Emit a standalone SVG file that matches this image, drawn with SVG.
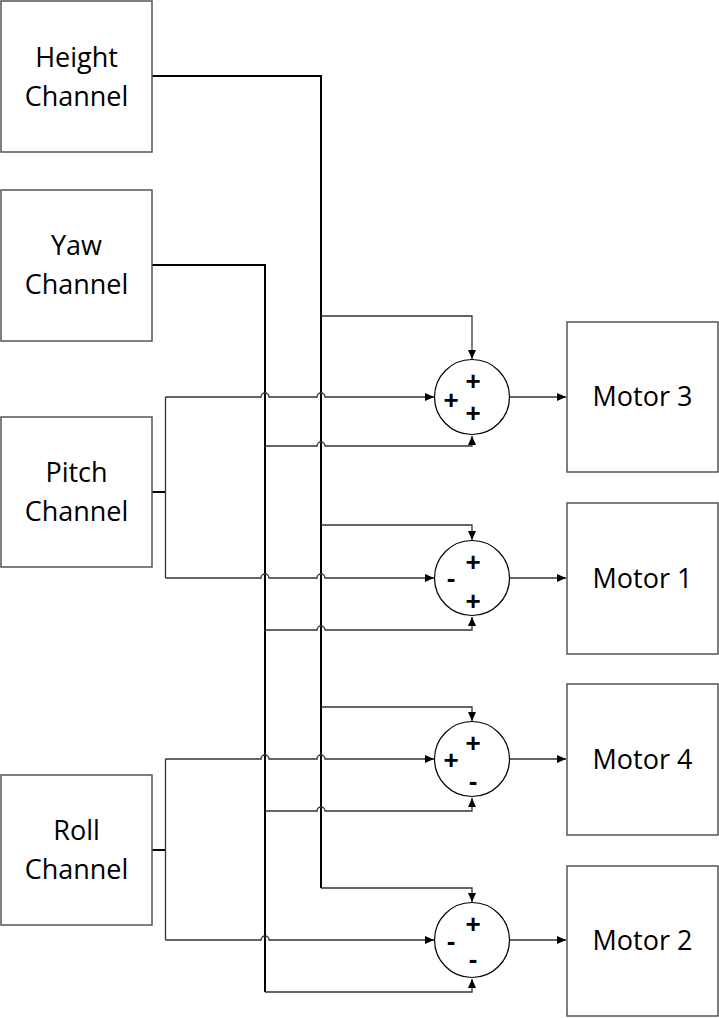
<svg xmlns="http://www.w3.org/2000/svg" width="719" height="1018" viewBox="0 0 719 1018">
<style>
.box{fill:#fff;stroke:#555;stroke-width:1.5}
.lbl{font-family:"Open Sans","Liberation Sans",sans-serif;font-size:27px;fill:#000;text-anchor:middle}
.sum{fill:#fff;stroke:#000;stroke-width:1.2}
.sg{font-family:"Liberation Sans",Arial,sans-serif;font-size:26px;font-weight:700;fill:#000;text-anchor:middle;dominant-baseline:central}
.trunk{fill:none;stroke:#000;stroke-width:2}
.w{fill:none;stroke:#333;stroke-width:1.3}
.wa{fill:none;stroke:#333;stroke-width:1.3;marker-end:url(#ah)}
</style>
<defs>
<marker id="ah" markerWidth="10" markerHeight="8" refX="9" refY="4" orient="auto" markerUnits="userSpaceOnUse">
<path d="M0,0 L9,4 L0,8 Z" fill="#000"/>
</marker>
</defs>
<rect width="719" height="1018" fill="#fff"/>
<g id="connectors">
<path class="trunk" d="M152,76 H321 V888"/>
<path class="trunk" d="M152,265 H265 V992"/>
<path class="trunk" d="M152,492 H165.5"/>
<path class="trunk" d="M152,850 H165.5"/>
<path class="w" d="M165.5,397 V578"/>
<path class="w" d="M165.5,759 V940"/>
<path class="wa" d="M165.5,397 H261 a4,4 0 0 1 8,0 H317 a4,4 0 0 1 8,0 H434"/>
<path class="wa" d="M165.5,578 H261 a4,4 0 0 1 8,0 H317 a4,4 0 0 1 8,0 H434"/>
<path class="wa" d="M165.5,759 H261 a4,4 0 0 1 8,0 H317 a4,4 0 0 1 8,0 H434"/>
<path class="wa" d="M165.5,940 H261 a4,4 0 0 1 8,0 H434"/>
<path class="wa" d="M321,316 H472 V359"/>
<path class="wa" d="M321,525 H472 V540"/>
<path class="wa" d="M321,707 H472 V721"/>
<path class="wa" d="M321,888 H472 V902"/>
<path class="wa" d="M265,446 H317 a4,4 0 0 1 8,0 H472 V436"/>
<path class="wa" d="M265,630 H317 a4,4 0 0 1 8,0 H472 V617"/>
<path class="wa" d="M265,811 H317 a4,4 0 0 1 8,0 H472 V798"/>
<path class="wa" d="M265,992 H472 V979"/>
<path class="wa" d="M510,397 H566"/>
<path class="wa" d="M510,578 H566"/>
<path class="wa" d="M510,759 H566"/>
<path class="wa" d="M510,940 H566"/>
</g>
<g id="height"><rect class="box" x="1" y="1" width="151" height="151"/><text class="lbl" x="76.5" y="67">Height</text><text class="lbl" x="76.5" y="106">Channel</text></g>
<g id="yaw"><rect class="box" x="1" y="190" width="151" height="151"/><text class="lbl" x="76.5" y="255">Yaw</text><text class="lbl" x="76.5" y="294">Channel</text></g>
<g id="pitch"><rect class="box" x="1" y="417" width="151" height="150"/><text class="lbl" x="76.5" y="482">Pitch</text><text class="lbl" x="76.5" y="521">Channel</text></g>
<g id="roll"><rect class="box" x="1" y="775" width="151" height="150"/><text class="lbl" x="76.5" y="840">Roll</text><text class="lbl" x="76.5" y="879">Channel</text></g>
<g id="sum1"><circle class="sum" cx="472" cy="397" r="37.5"/><text class="sg" x="473" y="381">+</text><text class="sg" x="451" y="400">+</text><text class="sg" x="473" y="413">+</text></g>
<g id="sum2"><circle class="sum" cx="472" cy="578" r="37.5"/><text class="sg" x="473" y="562">+</text><text class="sg" x="451" y="578">-</text><text class="sg" x="473" y="601">+</text></g>
<g id="sum3"><circle class="sum" cx="472" cy="759" r="37.5"/><text class="sg" x="473" y="743">+</text><text class="sg" x="451" y="760">+</text><text class="sg" x="473" y="781">-</text></g>
<g id="sum4"><circle class="sum" cx="472" cy="940" r="37.5"/><text class="sg" x="473" y="924">+</text><text class="sg" x="451" y="941">-</text><text class="sg" x="473" y="959">-</text></g>
<g id="motor3"><rect class="box" x="567" y="322" width="151" height="150"/><text class="lbl" x="642.5" y="406">Motor 3</text></g>
<g id="motor1"><rect class="box" x="567" y="503" width="151" height="151"/><text class="lbl" x="642.5" y="588">Motor 1</text></g>
<g id="motor4"><rect class="box" x="567" y="684" width="151" height="151"/><text class="lbl" x="642.5" y="769">Motor 4</text></g>
<g id="motor2"><rect class="box" x="567" y="866" width="151" height="150"/><text class="lbl" x="642.5" y="950">Motor 2</text></g>
</svg>
